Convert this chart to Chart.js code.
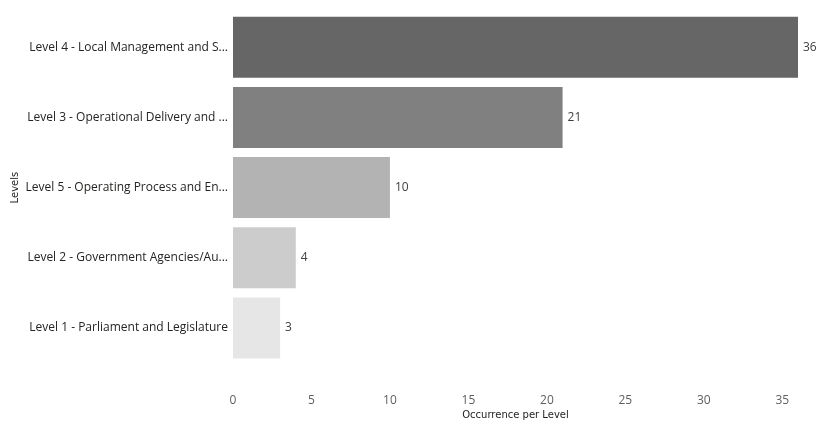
<!DOCTYPE html>
<html>
<head>
<meta charset="utf-8">
<script src="https://cdn.jsdelivr.net/npm/chart.js@4"></script>
<style>
  html, body { margin: 0; padding: 0; background: #fff; }
  #wrap { width: 832px; height: 428px; }
</style>
</head>
<body>
<div id="wrap"><canvas id="levelsChart"></canvas></div>
<script>
const levels = ["Level 4 - Local Management and S...", "Level 3 - Operational Delivery and ...", "Level 5 - Operating Process and En...", "Level 2 - Government Agencies/Au...", "Level 1 - Parliament and Legislature"];
const occurrences = [36, 21, 10, 4, 3];
const barColors = ["#666666", "#808080", "#b3b3b3", "#cccccc", "#e6e6e6"];
const xTicks = [0, 5, 10, 15, 20, 25, 30, 35];

// value labels just past the end of each bar
const endLabels = {
  id: 'endLabels',
  afterDatasetsDraw(chart) {
    const ctx = chart.ctx;
    const meta = chart.getDatasetMeta(0);
    ctx.save();
    ctx.font = '12px "Open Sans"';
    ctx.fillStyle = '#404040';
    ctx.textAlign = 'left';
    ctx.textBaseline = 'middle';
    meta.data.forEach((bar, i) => {
      ctx.fillText(occurrences[i], bar.x + 5, bar.y);
    });
    ctx.restore();
  }
};

new Chart(document.getElementById("levelsChart"), {
  type: 'bar',
  data: {
    labels: levels,
    datasets: [{
      label: "Occurrence per Level",
      data: occurrences,
      backgroundColor: barColors,
      categoryPercentage: 1,
      barPercentage: 0.87
    }]
  },
  options: {
    indexAxis: 'y',
    responsive: true,
    maintainAspectRatio: false,
    animation: false,
    layout: { padding: { top: 10, right: 34, bottom: 6, left: 9 } },
    plugins: {
      legend: { display: false },
      tooltip: { enabled: false }
    },
    scales: {
      x: {
        min: 0,
        max: 36,
        grid: { display: false, drawTicks: false },
        border: { display: false },
        afterBuildTicks(scale) {
          scale.ticks = xTicks.map(v => ({ value: v }));
        },
        afterFit(scale) { scale.height = 59; },
        ticks: {
          padding: 30,
          color: '#605e5c',
          font: { family: '"Open Sans"', size: 12 }
        },
        title: {
          display: true,
          text: 'Occurrence per Level',
          color: '#252423',
          padding: { top: 0, bottom: 1 },
          font: { family: '"DejaVu Sans"', size: 10 }
        }
      },
      y: {
        grid: { display: false, drawTicks: false },
        border: { display: false },
        afterFit(scale) { scale.width = 224; },
        ticks: {
          padding: 5,
          color: '#252423',
          font: { family: '"Open Sans"', size: 12 }
        },
        title: {
          display: true,
          text: 'Levels',
          color: '#252423',
          padding: { top: 0, bottom: 0 },
          font: { family: '"DejaVu Sans"', size: 10 }
        }
      }
    }
  },
  plugins: [endLabels]
});
</script>
</body>
</html>
